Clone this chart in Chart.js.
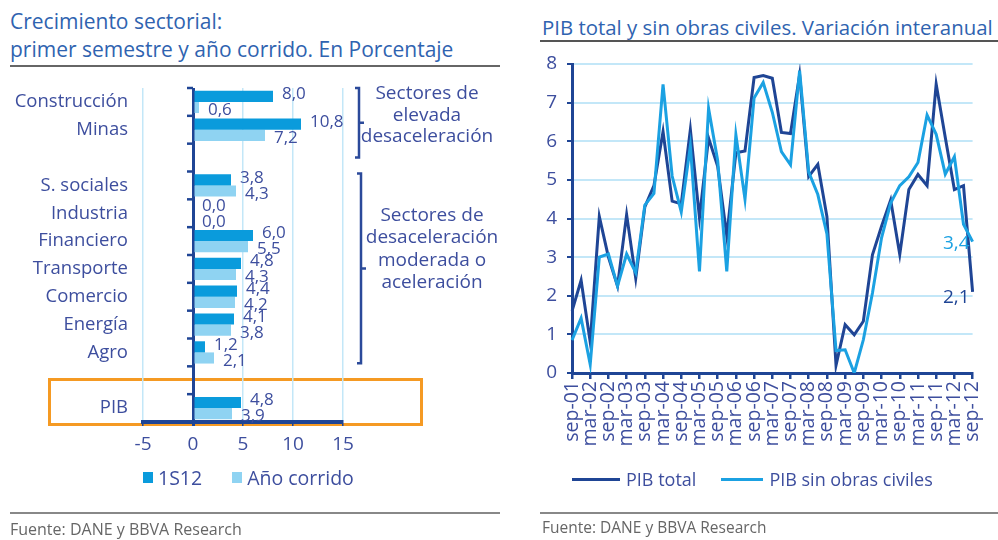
<!DOCTYPE html>
<html>
<head>
<meta charset="utf-8">
<script src="https://cdn.jsdelivr.net/npm/chart.js@4.4.1/dist/chart.umd.min.js"></script>
<style>
  body { margin: 0; background: #fff; font-family: "Open Sans", sans-serif; }
  #wrap { position: relative; width: 998px; height: 540px; overflow: hidden; background: #fff; }
  .abs { position: absolute; }
  .titulo { color: #2f63b0; font-size: 21px; line-height: 28px; white-space: nowrap; }
  .fuente { color: #666; font-size: 16px; white-space: nowrap; }
  .nota { color: #3d4e9e; font-size: 19px; text-align: center; white-space: nowrap; }
  .leyenda { color: #3d4e9e; font-size: 19.5px; white-space: nowrap; display: flex; align-items: center; }
  .cuadro { display: inline-block; width: 10px; height: 11px; margin-right: 5px; }
  .raya { display: inline-block; width: 48px; height: 3px; margin-right: 6px; }
</style>
</head>
<body>
<div id="wrap">
  <!-- panel izquierdo -->
  <div class="abs titulo" style="left:10px;top:7px;">Crecimiento sectorial:<br>primer semestre y año corrido. En Porcentaje</div>
  <div class="abs" style="left:10px;top:65px;width:490px;height:2px;background:#666;"></div>
  <div class="abs" style="left:48px;top:378px;width:375px;height:48px;box-sizing:border-box;border:3px solid #f59a23;"></div>
  <canvas id="cBar" class="abs" width="510" height="540" style="left:0;top:0;"></canvas>
  <div class="abs nota" style="left:352px;top:82px;width:150px;line-height:21.5px;">Sectores de<br>elevada<br>desaceleración</div>
  <div class="abs nota" style="left:357px;top:203px;width:150px;line-height:22.3px;">Sectores de<br>desaceleración<br>moderada o<br>aceleración</div>
  <div class="abs leyenda" style="left:143px;top:464px;">
    <span class="cuadro" style="background:#0a9bdc;"></span>1S12
    <span class="cuadro" style="background:#8fd3f2;margin-left:30px;"></span>Año corrido
  </div>
  <div class="abs" style="left:10px;top:512px;width:490px;height:1.5px;background:#888;"></div>
  <div class="abs fuente" style="left:10px;top:518px;">Fuente: DANE y BBVA Research</div>

  <!-- panel derecho -->
  <div class="abs titulo" style="left:542px;top:13px;font-size:20.4px;">PIB total y sin obras civiles. Variación interanual</div>
  <div class="abs" style="left:540px;top:40px;width:458px;height:2px;background:#555;"></div>
  <canvas id="cLinea" class="abs" width="478" height="540" style="left:520px;top:0;"></canvas>
  <div class="abs leyenda" style="left:572px;top:467px;font-size:18px;">
    <span class="raya" style="background:#1f4595;"></span>PIB total
    <span class="raya" style="background:#1ba1e2;margin-left:25px;width:42px;"></span>PIB sin obras civiles
  </div>
  <div class="abs" style="left:540px;top:512px;width:458px;height:1.5px;background:#888;"></div>
  <div class="abs fuente" style="left:542px;top:516px;font-size:15.5px;">Fuente: DANE y BBVA Research</div>
</div>

<script>
// ---- datos: crecimiento sectorial (%)
const sectores = ['Construcción', 'Minas', '', 'S. sociales', 'Industria', 'Financiero',
                  'Transporte', 'Comercio', 'Energía', 'Agro', '', 'PIB'];
const serie1S12 = [8.0, 10.8, null, 3.8, 0.0, 6.0, 4.8, 4.4, 4.1, 1.2, null, 4.8];
const serieAnio = [0.6, 7.2, null, 4.3, 0.0, 5.5, 4.3, 4.2, 3.8, 2.1, null, 3.9];

// ---- datos: PIB variación interanual (%)
const trimestres = ['sep-01','dic-01','mar-02','jun-02','sep-02','dic-02','mar-03','jun-03',
  'sep-03','dic-03','mar-04','jun-04','sep-04','dic-04','mar-05','jun-05','sep-05','dic-05',
  'mar-06','jun-06','sep-06','dic-06','mar-07','jun-07','sep-07','dic-07','mar-08','jun-08',
  'sep-08','dic-08','mar-09','jun-09','sep-09','dic-09','mar-10','jun-10','sep-10','dic-10',
  'mar-11','jun-11','sep-11','dic-11','mar-12','jun-12','sep-12'];
const pibTotal = [1.6, 2.4, 0.8, 4.05, 3.0, 2.25, 4.1, 2.45, 4.3, 4.85, 6.25, 4.45, 4.38, 6.3,
  4.02, 6.08, 5.35, 3.55, 5.7, 5.75, 7.65, 7.7, 7.63, 6.23, 6.2, 7.72, 5.09, 5.4, 4.05, 0.2,
  1.25, 0.99, 1.34, 3.06, 3.8, 4.48, 3.07, 4.75, 5.14, 4.85, 7.48, 6.1, 4.75, 4.85, 2.1];
const pibSinObras = [0.85, 1.42, 0.22, 3.0, 3.08, 2.25, 3.08, 2.6, 4.35, 4.65, 7.47, 5.1, 4.17,
  5.88, 2.63, 6.85, 5.5, 2.63, 6.17, 4.5, 7.12, 7.52, 6.75, 5.73, 5.39, 7.83, 5.2, 4.62, 3.6,
  0.58, 0.6, 0.0, 0.86, 2.07, 3.5, 4.4, 4.85, 5.08, 5.45, 6.68, 6.18, 5.15, 5.6, 3.85, 3.4];

const AZUL_OSC = '#1f4595';
const AZUL_CLARO = '#1ba1e2';
const TXT = '#3d4e9e';
const REJILLA = '#c3e7f8';
const FUENTE = '"Open Sans", sans-serif';

const fmt = v => v.toFixed(1).replace('.', ',');

// etiquetas, eje en cero y llaves del panel de barras
const extrasBarras = {
  id: 'extrasBarras',
  afterDatasetsDraw(chart) {
    const ctx = chart.ctx;
    const xs = chart.scales.x, ys = chart.scales.y;
    const x0 = xs.getPixelForValue(0);
    const medio = (ys.getPixelForValue(1) - ys.getPixelForValue(0)) / 2;
    ctx.save();
    // marcas del eje vertical
    ctx.strokeStyle = AZUL_OSC; ctx.lineWidth = 2.5;
    for (let i = 0; i <= sectores.length; i++) {
      const y = ys.getPixelForValue(0) - medio + i * medio * 2;
      ctx.beginPath(); ctx.moveTo(x0 - 6, y); ctx.lineTo(x0, y); ctx.stroke();
    }
    // valores
    ctx.font = '17px ' + FUENTE; ctx.fillStyle = TXT; ctx.textBaseline = 'middle'; ctx.textAlign = 'left';
    chart.data.datasets.forEach((ds, di) => {
      chart.getDatasetMeta(di).data.forEach((el, i) => {
        if (ds.data[i] == null) return;
        ctx.fillText(fmt(ds.data[i]), Math.max(el.x, x0) + 9, el.y + (di === 0 ? -2 : 3));
      });
    });
    // llaves
    const llave = (x, top, bot) => {
      const mid = (top + bot) / 2;
      ctx.beginPath();
      ctx.moveTo(x - 4, top); ctx.lineTo(x, top); ctx.lineTo(x, bot); ctx.lineTo(x - 4, bot);
      ctx.moveTo(x, mid); ctx.lineTo(x + 5, mid);
      ctx.stroke();
    };
    ctx.strokeStyle = '#2b4a9a'; ctx.lineWidth = 2.5;
    const xr = chart.chartArea.right;
    llave(xr + 16, ys.getPixelForValue(0) - medio, ys.getPixelForValue(2));
    llave(xr + 18, ys.getPixelForValue(3) - medio + 2, ys.getPixelForValue(9) + medio - 3);
    ctx.restore();
  }
};

new Chart(document.getElementById('cBar'), {
  type: 'bar',
  data: {
    labels: sectores,
    datasets: [
      { label: '1S12', data: serie1S12, backgroundColor: '#0a9bdc' },
      { label: 'Año corrido', data: serieAnio, backgroundColor: '#8fd3f2' }
    ]
  },
  options: {
    indexAxis: 'y', responsive: false, animation: false, devicePixelRatio: 1,
    categoryPercentage: 0.8, barPercentage: 1.0,
    layout: { padding: { left: 0, right: 167, top: 88, bottom: 78 } },
    plugins: { legend: { display: false }, tooltip: { enabled: false } },
    scales: {
      x: {
        min: -5, max: 15,
        ticks: { stepSize: 5, color: TXT, font: { size: 19, family: FUENTE }, padding: 7 },
        grid: {
          color: c => c.tick && c.tick.value === 0 ? AZUL_OSC : REJILLA,
          lineWidth: c => c.tick && c.tick.value === 0 ? 3 : 1.5,
          tickColor: AZUL_OSC, tickLength: 4
        },
        border: { display: true, color: AZUL_OSC, width: 4 },
        afterFit: s => { s.height = 40; }
      },
      y: {
        ticks: { color: TXT, font: { size: 18.5, family: FUENTE }, padding: 15 },
        grid: { display: false, drawTicks: false },
        border: { display: false },
        afterFit: s => { s.width = 143; }
      }
    }
  },
  plugins: [extrasBarras]
});

// etiquetas finales del panel de líneas
const etiquetasFinales = {
  id: 'etiquetasFinales',
  afterDatasetsDraw(chart) {
    const ctx = chart.ctx;
    ctx.save();
    ctx.font = '19px ' + FUENTE; ctx.textAlign = 'right'; ctx.textBaseline = 'middle';
    chart.data.datasets.forEach((ds, di) => {
      const pts = chart.getDatasetMeta(di).data;
      const p = pts[pts.length - 1];
      ctx.fillStyle = ds.borderColor;
      ctx.fillText(fmt(ds.data[ds.data.length - 1]), p.x - 3, p.y + (di === 0 ? 6 : 2));
    });
    ctx.restore();
  }
};

new Chart(document.getElementById('cLinea'), {
  type: 'line',
  data: {
    labels: trimestres,
    datasets: [
      { label: 'PIB total', data: pibTotal, borderColor: AZUL_OSC, borderWidth: 3, pointRadius: 0, order: 1 },
      { label: 'PIB sin obras civiles', data: pibSinObras, borderColor: AZUL_CLARO, borderWidth: 3, pointRadius: 0, order: 0 }
    ]
  },
  options: {
    responsive: false, animation: false, devicePixelRatio: 1,
    layout: { padding: { left: 0, right: 6, top: 64, bottom: 67 } },
    plugins: { legend: { display: false }, tooltip: { enabled: false } },
    scales: {
      x: {
        offset: false,
        ticks: {
          autoSkip: false, maxRotation: 90, minRotation: 90, color: TXT,
          font: { size: 19.5, family: FUENTE }, padding: 2,
          callback: function (v, i) { return i % 2 === 0 ? this.getLabelForValue(v) : ''; }
        },
        grid: {
          drawOnChartArea: false, tickLength: 6,
          tickColor: c => c.index % 2 === 0 ? AZUL_OSC : 'rgba(0,0,0,0)', lineWidth: 2.5
        },
        border: { display: true, color: AZUL_OSC, width: 3 },
        afterFit: s => { s.height = 100; }
      },
      y: {
        min: 0, max: 8,
        ticks: { stepSize: 1, color: TXT, font: { size: 19, family: FUENTE }, padding: 10 },
        grid: { color: REJILLA, lineWidth: 2, tickColor: AZUL_OSC, tickLength: 5 },
        border: { display: true, color: AZUL_OSC, width: 3 },
        afterFit: s => { s.width = 52; }
      }
    }
  },
  plugins: [etiquetasFinales]
});
</script>
</body>
</html>
